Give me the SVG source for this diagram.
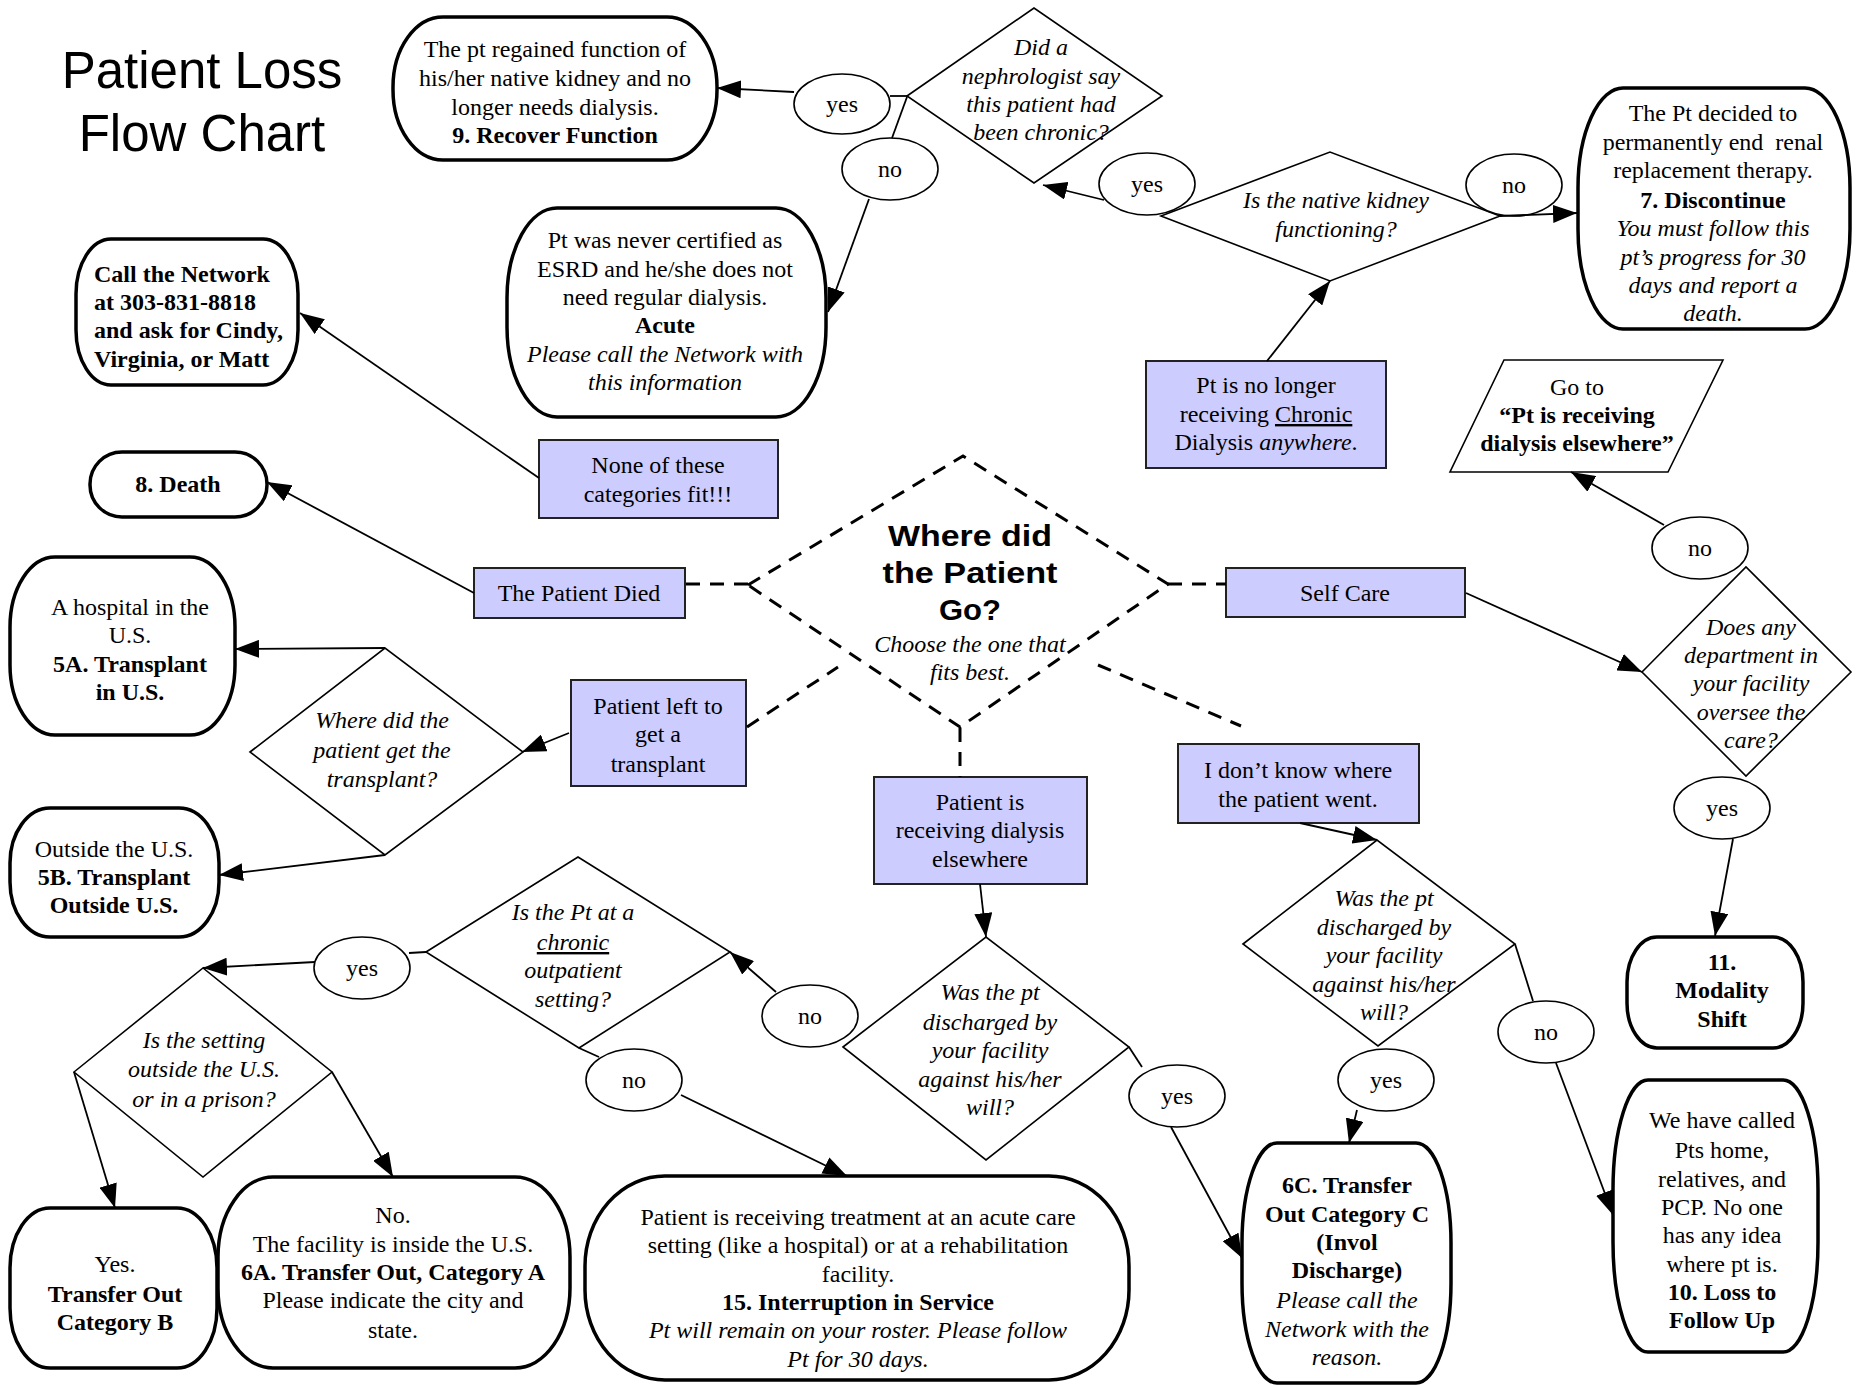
<svg xmlns="http://www.w3.org/2000/svg" width="1857" height="1385" viewBox="0 0 1857 1385">
<style>
.t{font-family:"Liberation Serif","Times New Roman",serif;font-size:24px;text-anchor:middle;fill:#000}
.l{text-anchor:start}
.b{font-weight:bold}
.i{font-style:italic}
.u{text-decoration:underline}
.term{fill:#fff;stroke:#000;stroke-width:3.5}
.dia{fill:#fff;stroke:#000;stroke-width:1.6}
.ell{fill:#fff;stroke:#000;stroke-width:1.6}
.blue{fill:#CCCCFF;stroke:#222;stroke-width:2}
.con{stroke:#000;stroke-width:1.8;fill:none}
.arr{marker-end:url(#ah)}
.dash{stroke:#000;stroke-width:3;stroke-dasharray:14 10;fill:none}
.title{font-family:"Liberation Sans",Arial,sans-serif;font-size:51px;text-anchor:middle;fill:#000}
.big{font-family:"Liberation Sans",Arial,sans-serif;font-size:30px;font-weight:bold;text-anchor:middle;fill:#000}
</style>
<defs>
<marker id="ah" markerUnits="userSpaceOnUse" viewBox="0 0 24 18" markerWidth="24" markerHeight="18" refX="24" refY="9" orient="auto">
<path d="M0,0 L24,9 L0,18 z" fill="#000"/>
</marker>
</defs>
<rect width="1857" height="1385" fill="#fff"/>

<g id="title">
<text class="title" x="202" y="88">Patient Loss</text>
<text class="title" x="202" y="151">Flow Chart</text>
</g>

<g id="recover">
<rect class="term" x="393" y="17" width="324" height="143" rx="50" ry="70"/>
<text class="t" x="555" y="57">The pt regained function of</text>
<text class="t" x="555" y="86">his/her native kidney and no</text>
<text class="t" x="555" y="115">longer needs dialysis.</text>
<text class="t b" x="555" y="143">9. Recover Function</text>
</g>

<g id="q-chronic">
<polygon class="dia" points="907,96 1034,8 1162,96 1034,183"/>
<text class="t i" x="1041" y="55">Did a</text>
<text class="t i" x="1041" y="84">nephrologist say</text>
<text class="t i" x="1041" y="112">this patient had</text>
<text class="t i" x="1041" y="140">been chronic?</text>
</g>

<g id="yes1"><ellipse class="ell" cx="842" cy="104" rx="48" ry="30"/><text class="t" x="842" y="112">yes</text></g>
<g id="no1"><ellipse class="ell" cx="890" cy="169" rx="48" ry="31"/><text class="t" x="890" y="177">no</text></g>

<g id="acute">
<rect class="term" x="507" y="208" width="319" height="209" rx="50" ry="90"/>
<text class="t" x="665" y="248">Pt was never certified as</text>
<text class="t" x="665" y="277">ESRD and he/she does not</text>
<text class="t" x="665" y="305">need regular dialysis.</text>
<text class="t b" x="665" y="333">Acute</text>
<text class="t i" x="665" y="362">Please call the Network with</text>
<text class="t i" x="665" y="390">this information</text>
</g>

<g id="call">
<rect class="term" x="76" y="239" width="222" height="146" rx="35" ry="55"/>
<text class="t b l" x="94" y="282">Call the Network</text>
<text class="t b l" x="94" y="310">at 303-831-8818</text>
<text class="t b l" x="94" y="338">and ask for Cindy,</text>
<text class="t b l" x="94" y="367">Virginia, or Matt</text>
</g>

<g id="none">
<rect class="blue" x="539" y="440" width="239" height="78"/>
<text class="t" x="658" y="473">None of these</text>
<text class="t" x="658" y="502">categories fit!!!</text>
</g>

<g id="death">
<rect class="term" x="90" y="452" width="177" height="65" rx="32" ry="32"/>
<text class="t b" x="178" y="492">8. Death</text>
</g>

<g id="died">
<rect class="blue" x="474" y="568" width="211" height="50"/>
<text class="t" x="579" y="601">The Patient Died</text>
</g>

<g id="where">
<polygon class="dash" points="748,585 963,456 1168,584 960,727"/>
<text class="big" x="970" y="546" textLength="164" lengthAdjust="spacingAndGlyphs">Where did</text>
<text class="big" x="970" y="583" textLength="175" lengthAdjust="spacingAndGlyphs">the Patient</text>
<text class="big" x="970" y="620" textLength="62" lengthAdjust="spacingAndGlyphs">Go?</text>
<text class="t i" x="970" y="652">Choose the one that</text>
<text class="t i" x="970" y="680">fits best.</text>
</g>

<g id="selfcare">
<rect class="blue" x="1226" y="568" width="239" height="49"/>
<text class="t" x="1345" y="601">Self Care</text>
</g>

<g id="transplant-box">
<rect class="blue" x="571" y="680" width="175" height="106"/>
<text class="t" x="658" y="714">Patient left to</text>
<text class="t" x="658" y="742">get a</text>
<text class="t" x="658" y="772">transplant</text>
</g>

<g id="q-transplant">
<polygon class="dia" points="250,752 385,648 523,752 385,855"/>
<text class="t i" x="382" y="728">Where did the</text>
<text class="t i" x="382" y="758">patient get the</text>
<text class="t i" x="382" y="787">transplant?</text>
</g>

<g id="t5a">
<rect class="term" x="10" y="557" width="225" height="178" rx="45" ry="70"/>
<text class="t" x="130" y="615">A hospital in the</text>
<text class="t" x="130" y="643">U.S.</text>
<text class="t b" x="130" y="672">5A. Transplant</text>
<text class="t b" x="130" y="700">in U.S.</text>
</g>

<g id="t5b">
<rect class="term" x="10" y="808" width="209" height="129" rx="40" ry="55"/>
<text class="t" x="114" y="857">Outside the U.S.</text>
<text class="t b" x="114" y="885">5B. Transplant</text>
<text class="t b" x="114" y="913">Outside U.S.</text>
</g>

<g id="nolonger">
<rect class="blue" x="1146" y="361" width="240" height="107"/>
<text class="t" x="1266" y="393">Pt is no longer</text>
<text class="t" x="1266" y="422">receiving <tspan class="u">Chronic</tspan></text>
<text class="t" x="1266" y="450">Dialysis <tspan class="i">anywhere</tspan>.</text>
</g>

<g id="q-kidney">
<polygon class="dia" points="1161,216 1330,152 1500,216 1330,281"/>
<text class="t i" x="1336" y="208">Is the native kidney</text>
<text class="t i" x="1336" y="237">functioning?</text>
</g>

<g id="yes2"><ellipse class="ell" cx="1147" cy="184" rx="48" ry="31"/><text class="t" x="1147" y="192">yes</text></g>
<g id="no2"><ellipse class="ell" cx="1514" cy="185" rx="48" ry="31"/><text class="t" x="1514" y="193">no</text></g>

<g id="discontinue">
<rect class="term" x="1578" y="88" width="272" height="241" rx="45" ry="100"/>
<text class="t" x="1713" y="121">The Pt decided to</text>
<text class="t" x="1713" y="150" xml:space="preserve">permanently end  renal</text>
<text class="t" x="1713" y="178">replacement therapy.</text>
<text class="t b" x="1713" y="208">7. Discontinue</text>
<text class="t i" x="1713" y="236">You must follow this</text>
<text class="t i" x="1713" y="265">pt’s progress for 30</text>
<text class="t i" x="1713" y="293">days and report a</text>
<text class="t i" x="1713" y="321">death.</text>
</g>

<g id="goto">
<polygon class="dia" points="1504,360 1723,360 1668,472 1450,472"/>
<text class="t" x="1577" y="395">Go to</text>
<text class="t b" x="1577" y="423">“Pt is receiving</text>
<text class="t b" x="1577" y="451">dialysis elsewhere”</text>
</g>

<g id="no3"><ellipse class="ell" cx="1700" cy="548" rx="48" ry="31"/><text class="t" x="1700" y="556">no</text></g>

<g id="q-dept">
<polygon class="dia" points="1642,672 1746,567 1851,672 1746,776"/>
<text class="t i" x="1751" y="635">Does any</text>
<text class="t i" x="1751" y="663">department in</text>
<text class="t i" x="1751" y="691">your facility</text>
<text class="t i" x="1751" y="720">oversee the</text>
<text class="t i" x="1751" y="748">care?</text>
</g>

<g id="yes3"><ellipse class="ell" cx="1722" cy="808" rx="48" ry="31"/><text class="t" x="1722" y="816">yes</text></g>

<g id="modality">
<rect class="term" x="1627" y="937" width="176" height="111" rx="30" ry="45"/>
<text class="t b" x="1722" y="970">11.</text>
<text class="t b" x="1722" y="998">Modality</text>
<text class="t b" x="1722" y="1027">Shift</text>
</g>

<g id="unknown">
<rect class="blue" x="1178" y="744" width="241" height="79"/>
<text class="t" x="1298" y="778">I don’t know where</text>
<text class="t" x="1298" y="807">the patient went.</text>
</g>

<g id="q-discharged-right">
<polygon class="dia" points="1243,944 1377,840 1515,944 1378,1046"/>
<text class="t i" x="1384" y="906">Was the pt</text>
<text class="t i" x="1384" y="935">discharged by</text>
<text class="t i" x="1384" y="963">your facility</text>
<text class="t i" x="1384" y="992">against his/her</text>
<text class="t i" x="1384" y="1020">will?</text>
</g>

<g id="yes4"><ellipse class="ell" cx="1386" cy="1080" rx="48" ry="31"/><text class="t" x="1386" y="1088">yes</text></g>
<g id="no4"><ellipse class="ell" cx="1546" cy="1032" rx="48" ry="31"/><text class="t" x="1546" y="1040">no</text></g>

<g id="loss">
<rect class="term" x="1613" y="1080" width="205" height="272" rx="35" ry="110"/>
<text class="t" x="1722" y="1128">We have called</text>
<text class="t" x="1722" y="1158">Pts home,</text>
<text class="t" x="1722" y="1187">relatives, and</text>
<text class="t" x="1722" y="1215">PCP. No one</text>
<text class="t" x="1722" y="1243">has any idea</text>
<text class="t" x="1722" y="1272">where pt is.</text>
<text class="t b" x="1722" y="1300">10. Loss to</text>
<text class="t b" x="1722" y="1328">Follow Up</text>
</g>

<g id="t6c">
<rect class="term" x="1242" y="1143" width="209" height="240" rx="35" ry="100"/>
<text class="t b" x="1347" y="1193">6C. Transfer</text>
<text class="t b" x="1347" y="1222">Out Category C</text>
<text class="t b" x="1347" y="1250">(Invol</text>
<text class="t b" x="1347" y="1278">Discharge)</text>
<text class="t i" x="1347" y="1308">Please call the</text>
<text class="t i" x="1347" y="1337">Network with the</text>
<text class="t i" x="1347" y="1365">reason.</text>
</g>

<g id="elsewhere">
<rect class="blue" x="874" y="777" width="213" height="107"/>
<text class="t" x="980" y="810">Patient is</text>
<text class="t" x="980" y="838">receiving dialysis</text>
<text class="t" x="980" y="867">elsewhere</text>
</g>

<g id="q-discharged-mid">
<polygon class="dia" points="843,1047 986,937 1129,1047 986,1160"/>
<text class="t i" x="990" y="1000">Was the pt</text>
<text class="t i" x="990" y="1030">discharged by</text>
<text class="t i" x="990" y="1058">your facility</text>
<text class="t i" x="990" y="1087">against his/her</text>
<text class="t i" x="990" y="1115">will?</text>
</g>

<g id="yes5"><ellipse class="ell" cx="1177" cy="1096" rx="48" ry="31"/><text class="t" x="1177" y="1104">yes</text></g>
<g id="no5"><ellipse class="ell" cx="810" cy="1016" rx="48" ry="31"/><text class="t" x="810" y="1024">no</text></g>

<g id="q-outpatient">
<polygon class="dia" points="426,952 578,857 730,952 579,1048"/>
<text class="t i" x="573" y="920">Is the Pt at a</text>
<text class="t i u" x="573" y="950">chronic</text>
<text class="t i" x="573" y="978">outpatient</text>
<text class="t i" x="573" y="1007">setting?</text>
</g>

<g id="no6"><ellipse class="ell" cx="634" cy="1080" rx="48" ry="31"/><text class="t" x="634" y="1088">no</text></g>
<g id="yes6"><ellipse class="ell" cx="362" cy="968" rx="48" ry="31"/><text class="t" x="362" y="976">yes</text></g>

<g id="q-setting">
<polygon class="dia" points="74,1072 203,968 332,1072 203,1177"/>
<text class="t i" x="204" y="1048">Is the setting</text>
<text class="t i" x="204" y="1077">outside the U.S.</text>
<text class="t i" x="204" y="1107">or in a prison?</text>
</g>

<g id="catb">
<rect class="term" x="10" y="1208" width="207" height="160" rx="40" ry="60"/>
<text class="t" x="115" y="1272">Yes.</text>
<text class="t b" x="115" y="1302">Transfer Out</text>
<text class="t b" x="115" y="1330">Category B</text>
</g>

<g id="t6a">
<rect class="term" x="218" y="1177" width="352" height="191" rx="55" ry="80"/>
<text class="t" x="393" y="1223">No.</text>
<text class="t" x="393" y="1252">The facility is inside the U.S.</text>
<text class="t b" x="393" y="1280">6A. Transfer Out, Category A</text>
<text class="t" x="393" y="1308">Please indicate the city and</text>
<text class="t" x="393" y="1338">state.</text>
</g>

<g id="t15">
<rect class="term" x="585" y="1176" width="544" height="204" rx="80" ry="90"/>
<text class="t" x="858" y="1225">Patient is receiving treatment at an acute care</text>
<text class="t" x="858" y="1253">setting (like a hospital) or at a rehabilitation</text>
<text class="t" x="858" y="1282">facility.</text>
<text class="t b" x="858" y="1310">15. Interruption in Service</text>
<text class="t i" x="858" y="1338">Pt will remain on your roster. Please follow</text>
<text class="t i" x="858" y="1367">Pt for 30 days.</text>
</g>

<g id="connectors">
<line class="con" x1="907" y1="96" x2="890" y2="96"/>
<line class="con arr" x1="794" y1="92" x2="717" y2="88"/>
<line class="con" x1="907" y1="97" x2="892" y2="138"/>
<line class="con arr" x1="869" y1="199" x2="828" y2="312"/>
<line class="con arr" x1="539" y1="478" x2="300" y2="313"/>
<line class="con arr" x1="474" y1="593" x2="267" y2="482"/>
<line class="dash" x1="686" y1="584" x2="748" y2="584"/>
<line class="dash" x1="1168" y1="584" x2="1226" y2="584"/>
<line class="dash" x1="747" y1="727" x2="838" y2="667"/>
<line class="dash" x1="960" y1="728" x2="960" y2="777"/>
<line class="dash" x1="1098" y1="665" x2="1241" y2="726"/>
<line class="con arr" x1="1466" y1="593" x2="1642" y2="672"/>
<line class="con arr" x1="569" y1="733" x2="522" y2="752"/>
<line class="con arr" x1="385" y1="648" x2="235" y2="649"/>
<line class="con arr" x1="385" y1="855" x2="219" y2="875"/>
<line class="con arr" x1="1267" y1="361" x2="1330" y2="281"/>
<line class="con arr" x1="1104" y1="200" x2="1043" y2="185"/>
<line class="con arr" x1="1500" y1="216" x2="1577" y2="213"/>
<line class="con arr" x1="1664" y1="525" x2="1571" y2="472"/>
<line class="con arr" x1="1733" y1="839" x2="1715" y2="936"/>
<line class="con arr" x1="1300" y1="823" x2="1377" y2="840"/>
<line class="con" x1="1515" y1="944" x2="1533" y2="1001"/>
<line class="con arr" x1="1556" y1="1063" x2="1613" y2="1215"/>
<line class="con arr" x1="1357" y1="1110" x2="1349" y2="1143"/>
<line class="con arr" x1="980" y1="884" x2="986" y2="937"/>
<line class="con" x1="1129" y1="1047" x2="1142" y2="1067"/>
<line class="con arr" x1="1171" y1="1127" x2="1242" y2="1258"/>
<line class="con arr" x1="776" y1="992" x2="730" y2="952"/>
<line class="con" x1="579" y1="1048" x2="599" y2="1057"/>
<line class="con arr" x1="681" y1="1095" x2="847" y2="1176"/>
<line class="con" x1="426" y1="952" x2="409" y2="953"/>
<line class="con arr" x1="315" y1="962" x2="203" y2="968"/>
<line class="con arr" x1="74" y1="1072" x2="115" y2="1208"/>
<line class="con arr" x1="332" y1="1072" x2="393" y2="1177"/>
</g>
</svg>
